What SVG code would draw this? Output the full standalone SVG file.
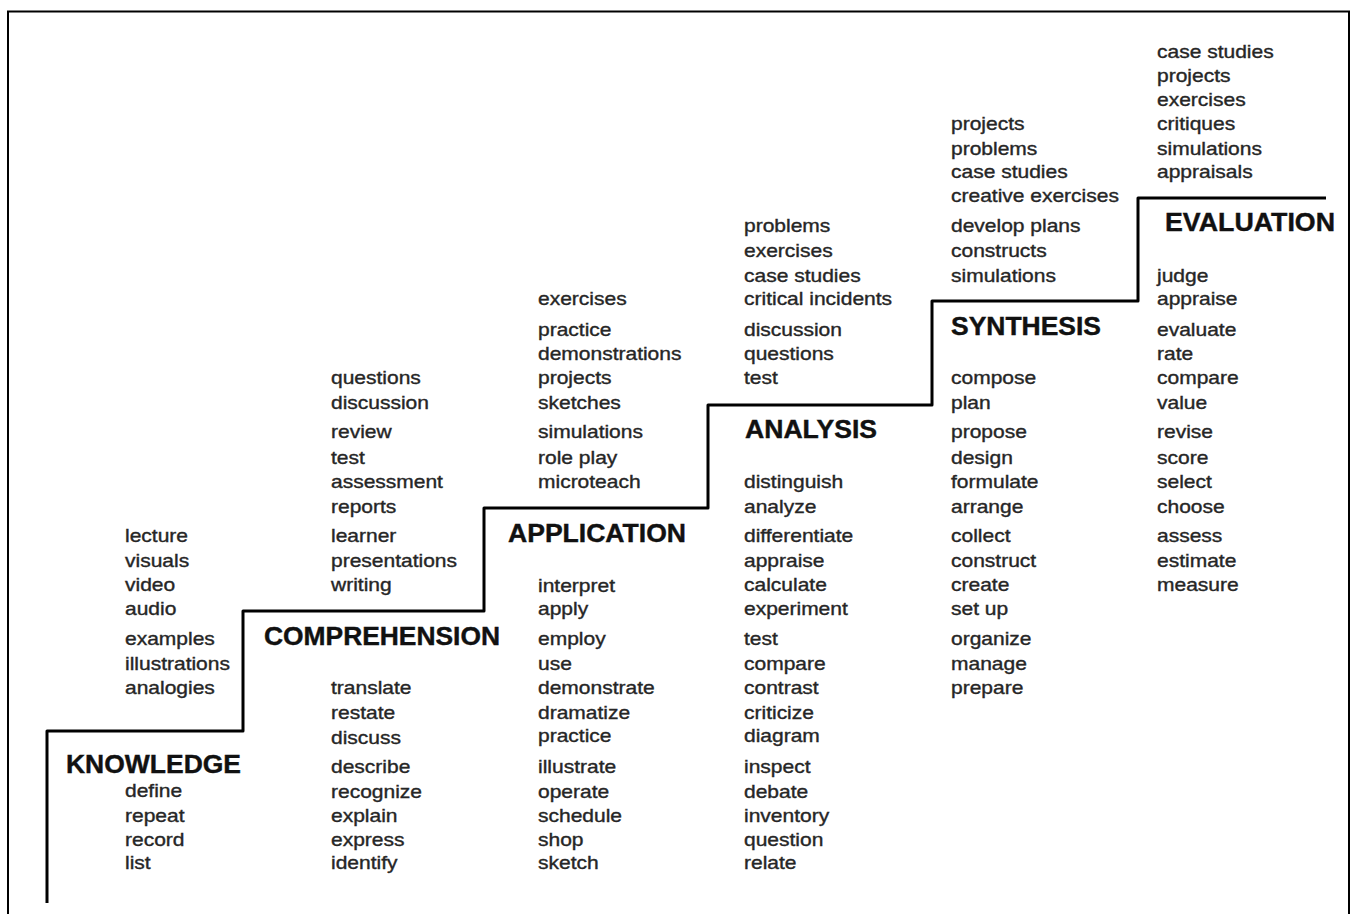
<svg xmlns="http://www.w3.org/2000/svg" width="1352" height="914" viewBox="0 0 1352 914">
<style>
.t{font-family:"Liberation Sans",Arial,sans-serif;font-size:17.5px;fill:#262626;stroke:#262626;stroke-width:0.35}
.h{font-family:"Liberation Sans",Arial,sans-serif;font-size:25px;font-weight:bold;fill:#111;stroke:#111;stroke-width:0.4}
.stair{fill:none;stroke:#000;stroke-width:3;stroke-linejoin:round}
</style>
<rect x="8" y="11.5" width="1341" height="912" fill="#fff" stroke="#000" stroke-width="2"/>
<g id="connectors">
<path class="stair" d="M47,903 V731 H243 V611 H484 V508 H708 V405 H932 V301 H1138 V198 H1326"/>
</g>
<g id="knowledge">
<text class="h" x="66" y="773" textLength="175" lengthAdjust="spacingAndGlyphs">KNOWLEDGE</text>
<g transform="translate(125,0) scale(1.2 1)">
<text class="t" y="542">lecture</text><text class="t" y="567">visuals</text><text class="t" y="591">video</text><text class="t" y="615">audio</text><text class="t" y="645">examples</text><text class="t" y="670">illustrations</text><text class="t" y="694">analogies</text>
<text class="t" y="797">define</text><text class="t" y="822">repeat</text><text class="t" y="846">record</text><text class="t" y="869">list</text>
</g>
</g>
<g id="comprehension">
<text class="h" x="264" y="645" textLength="236" lengthAdjust="spacingAndGlyphs">COMPREHENSION</text>
<g transform="translate(331,0) scale(1.2 1)">
<text class="t" y="384">questions</text><text class="t" y="409">discussion</text><text class="t" y="438">review</text><text class="t" y="464">test</text><text class="t" y="488">assessment</text><text class="t" y="513">reports</text><text class="t" y="542">learner</text><text class="t" y="567">presentations</text><text class="t" y="591">writing</text>
<text class="t" y="694">translate</text><text class="t" y="719">restate</text><text class="t" y="744">discuss</text><text class="t" y="773">describe</text><text class="t" y="798">recognize</text><text class="t" y="822">explain</text><text class="t" y="846">express</text><text class="t" y="869">identify</text>
</g>
</g>
<g id="application">
<text class="h" x="508" y="542" textLength="178" lengthAdjust="spacingAndGlyphs">APPLICATION</text>
<g transform="translate(538,0) scale(1.2 1)">
<text class="t" y="305">exercises</text><text class="t" y="336">practice</text><text class="t" y="360">demonstrations</text><text class="t" y="384">projects</text><text class="t" y="409">sketches</text><text class="t" y="438">simulations</text><text class="t" y="464">role play</text><text class="t" y="488">microteach</text>
<text class="t" y="592">interpret</text><text class="t" y="615">apply</text><text class="t" y="645">employ</text><text class="t" y="670">use</text><text class="t" y="694">demonstrate</text><text class="t" y="719">dramatize</text><text class="t" y="742">practice</text><text class="t" y="773">illustrate</text><text class="t" y="798">operate</text><text class="t" y="822">schedule</text><text class="t" y="846">shop</text><text class="t" y="869">sketch</text>
</g>
</g>
<g id="analysis">
<text class="h" x="745" y="438" textLength="132" lengthAdjust="spacingAndGlyphs">ANALYSIS</text>
<g transform="translate(744,0) scale(1.2 1)">
<text class="t" y="232">problems</text><text class="t" y="257">exercises</text><text class="t" y="282">case studies</text><text class="t" y="305">critical incidents</text><text class="t" y="336">discussion</text><text class="t" y="360">questions</text><text class="t" y="384">test</text>
<text class="t" y="488">distinguish</text><text class="t" y="513">analyze</text><text class="t" y="542">differentiate</text><text class="t" y="567">appraise</text><text class="t" y="591">calculate</text><text class="t" y="615">experiment</text><text class="t" y="645">test</text><text class="t" y="670">compare</text><text class="t" y="694">contrast</text><text class="t" y="719">criticize</text><text class="t" y="742">diagram</text><text class="t" y="773">inspect</text><text class="t" y="798">debate</text><text class="t" y="822">inventory</text><text class="t" y="846">question</text><text class="t" y="869">relate</text>
</g>
</g>
<g id="synthesis">
<text class="h" x="951" y="335" textLength="150" lengthAdjust="spacingAndGlyphs">SYNTHESIS</text>
<g transform="translate(951,0) scale(1.2 1)">
<text class="t" y="130">projects</text><text class="t" y="155">problems</text><text class="t" y="178">case studies</text><text class="t" y="202">creative exercises</text><text class="t" y="232">develop plans</text><text class="t" y="257">constructs</text><text class="t" y="282">simulations</text>
<text class="t" y="384">compose</text><text class="t" y="409">plan</text><text class="t" y="438">propose</text><text class="t" y="464">design</text><text class="t" y="488">formulate</text><text class="t" y="513">arrange</text><text class="t" y="542">collect</text><text class="t" y="567">construct</text><text class="t" y="591">create</text><text class="t" y="615">set up</text><text class="t" y="645">organize</text><text class="t" y="670">manage</text><text class="t" y="694">prepare</text>
</g>
</g>
<g id="evaluation">
<text class="h" x="1165" y="231" textLength="170" lengthAdjust="spacingAndGlyphs">EVALUATION</text>
<g transform="translate(1157,0) scale(1.2 1)">
<text class="t" y="58">case studies</text><text class="t" y="82">projects</text><text class="t" y="106">exercises</text><text class="t" y="130">critiques</text><text class="t" y="155">simulations</text><text class="t" y="178">appraisals</text>
<text class="t" y="282">judge</text><text class="t" y="305">appraise</text><text class="t" y="336">evaluate</text><text class="t" y="360">rate</text><text class="t" y="384">compare</text><text class="t" y="409">value</text><text class="t" y="438">revise</text><text class="t" y="464">score</text><text class="t" y="488">select</text><text class="t" y="513">choose</text><text class="t" y="542">assess</text><text class="t" y="567">estimate</text><text class="t" y="591">measure</text>
</g>
</g>
</svg>
